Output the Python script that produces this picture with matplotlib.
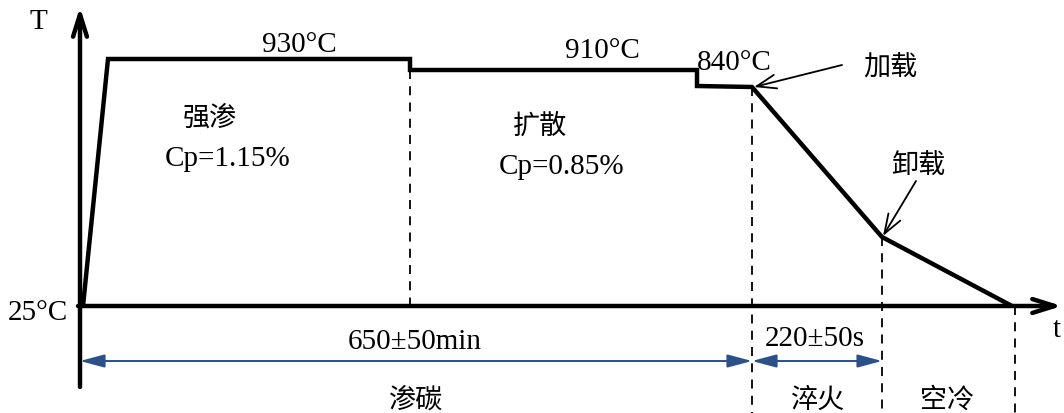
import matplotlib
matplotlib.use("Agg")
import matplotlib.pyplot as plt
from matplotlib.patches import FancyArrowPatch

# Schematic process curve (diagram coordinates: time axis -> right, temperature -> up)
profile_t = [83, 108, 410, 410, 697, 697, 752, 882, 1012]
profile_T = [307, 60, 60, 71, 71, 87, 88, 238, 307]

# Dashed stage boundaries: x, top, bottom
dash_x = [410, 752, 882, 1015]
dash_top = [71, 88, 238, 307]
dash_bottom = [307, 414, 414, 414]

# Annotations
temp_labels = ["930°C", "910°C", "840°C"]
temp_label_pos = [(299, 45), (602, 51), (734, 63)]
stage_text = ["强渗", "Cp=1.15%", "扩散", "Cp=0.85%"]
stage_text_pos = [(210, 118), (228, 159), (540, 126), (562, 167)]
duration_labels = ["650±50min", "220±50s"]
duration_pos = [(415, 342), (815, 339)]
duration_spans = [(80, 752), (752, 882)]
process_labels = ["渗碳", "淬火", "空冷"]
process_pos = [(415, 400), (817, 400), (947, 400)]

LATIN = ["Liberation Serif", "Noto Sans CJK SC"]
CJK = ["Noto Sans CJK SC", "Liberation Serif"]

fig = plt.figure(figsize=(10.64, 4.14), dpi=100)
ax = fig.add_axes([0, 0, 1, 1])
ax.set_xlim(0, 1064)
ax.set_ylim(414, 0)
ax.axis("off")

# Axes with open arrowheads
ax.add_patch(FancyArrowPatch((80, 388), (80, 8), arrowstyle="->,head_length=16,head_width=5",
                             lw=3.2, color="black", mutation_scale=1, shrinkA=0, shrinkB=0))
ax.add_patch(FancyArrowPatch((78, 307), (1062, 307), arrowstyle="->,head_length=16,head_width=5",
                             lw=3.2, color="black", mutation_scale=1, shrinkA=0, shrinkB=0))

# Process curve
ax.plot(profile_t, profile_T, color="black", lw=3.2, solid_joinstyle="miter", solid_capstyle="butt")

# Dashed lines
for x, t, b in zip(dash_x, dash_top, dash_bottom):
    ax.plot([x, x], [t, b], color="black", lw=1.3, ls=(0, (5, 4)))

# Duration arrows (blue)
for (x0, x1) in duration_spans:
    ax.add_patch(FancyArrowPatch((x0, 362), (x1, 362), arrowstyle="<|-|>,head_length=15,head_width=4",
                                 lw=1.4, color="#2B5189", mutation_scale=1, shrinkA=0, shrinkB=0))

fs = 21
fc = 19.5
# Axis labels
ax.text(38, 22, "T", fontsize=fs, family=LATIN, ha="center", va="center")
ax.text(38, 313, "25°C", fontsize=fs, family=LATIN, ha="center", va="center")
ax.text(1057, 330, "t", fontsize=fs, family=LATIN, ha="center", va="center")

for s, (x, y) in zip(temp_labels, temp_label_pos):
    ax.text(x, y, s, fontsize=fs, family=LATIN, ha="center", va="center")
for s, (x, y) in zip(stage_text, stage_text_pos):
    cjk = not s.startswith("Cp")
    ax.text(x, y, s, fontsize=fc if cjk else fs, family=CJK if cjk else LATIN,
            weight="light" if cjk else "normal", ha="center", va="center")
for s, (x, y) in zip(duration_labels, duration_pos):
    ax.text(x, y, s, fontsize=fs, family=LATIN, ha="center", va="center")
for s, (x, y) in zip(process_labels, process_pos):
    ax.text(x, y, s, fontsize=fc, family=CJK, weight="light", ha="center", va="center")

# Loading / unloading pointers
ax.text(890, 68, "加载", fontsize=fc, family=CJK, weight="light", ha="center", va="center")
ax.add_patch(FancyArrowPatch((842, 66), (754, 88), arrowstyle="->,head_length=14,head_width=5",
                             lw=1.3, color="black", mutation_scale=1, shrinkA=0, shrinkB=0))
ax.text(918, 166, "卸载", fontsize=fc, family=CJK, weight="light", ha="center", va="center")
ax.add_patch(FancyArrowPatch((916, 182), (883, 237), arrowstyle="->,head_length=14,head_width=5",
                             lw=1.3, color="black", mutation_scale=1, shrinkA=0, shrinkB=0))

fig.savefig("out.png", dpi=100)
